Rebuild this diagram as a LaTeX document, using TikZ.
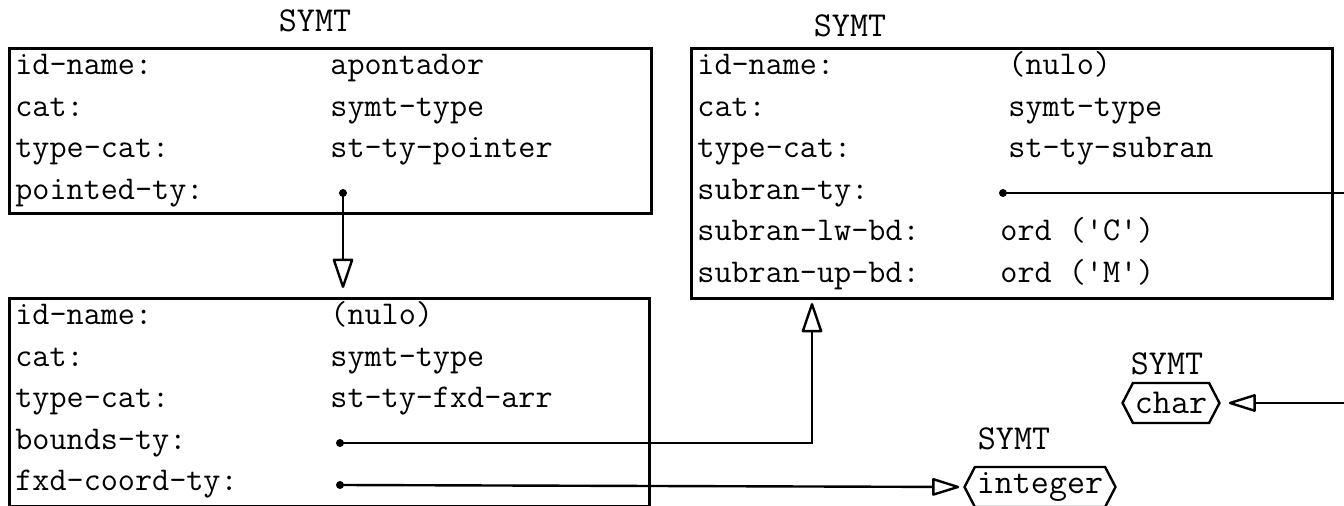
\documentclass[tikz,border=0pt]{standalone}
\usepackage{fontspec}
\usetikzlibrary{arrows.meta,shapes.symbols}
\tikzset{
  box/.style={draw, line width=1.4pt, inner sep=0, anchor=north west},
  fld/.style={anchor=base west, inner sep=0, font=\ttfamily\fontsize{16.6}{19}\selectfont},
  lbl/.style={anchor=base, inner sep=0, font=\ttfamily\fontsize{17.5}{20}\selectfont},
  dotc/.style={circle, fill, inner sep=0, minimum size=4pt},
  conn/.style={line width=1.2pt},
  tri/.style={-{Triangle[open, length=16pt, width=10.5pt, round]}},
  trismall/.style={-{Triangle[open, length=15pt, width=9pt, round]}},
  symtnode/.style={draw, line width=1.2pt, shape=signal, signal to=west and east,
    signal pointer angle=125, inner xsep=1pt, inner ysep=0pt, minimum height=20pt,
    font=\ttfamily\fontsize{17.5}{20}\selectfont}
}
\begin{document}
\begin{tikzpicture}[x=0.5pt,y=-0.5pt]
\clip (0,0) rectangle (1344,506);
% labels
\node[lbl] (l1) at (315,32) {SYMT};
\node[lbl] (l3) at (850,37) {SYMT};
\node[lbl] (l4) at (1167,375) {SYMT};
\node[lbl] (l5) at (1014,450) {SYMT};
% boxes
\node[box, minimum width=321pt, minimum height=82.5pt] (b1) at (8,47) {};
\node[box, minimum width=320pt, minimum height=104pt] (b2) at (8,297) {};
\node[box, minimum width=320.5pt, minimum height=125pt] (b3) at (690,47) {};
% box 1 fields
\node[fld] (a1) at (15,75) {id-name:};
\node[fld] (a2) at (15,116.5) {cat:};
\node[fld] (a3) at (15,158) {type-cat:};
\node[fld] (a4) at (15,199.5) {pointed-ty:};
\node[fld] (av1) at (330,75) {apontador};
\node[fld] (av2) at (330,116.5) {symt-type};
\node[fld] (av3) at (330,158) {st-ty-pointer};
% box 2 fields
\node[fld] (c1) at (15,325) {id-name:};
\node[fld] (c2) at (15,366.5) {cat:};
\node[fld] (c3) at (15,408) {type-cat:};
\node[fld] (c4) at (15,449.5) {bounds-ty:};
\node[fld] (c5) at (15,491) {fxd-coord-ty:};
\node[fld] (cv1) at (330,325) {(nulo)};
\node[fld] (cv2) at (330,366.5) {symt-type};
\node[fld] (cv3) at (330,408) {st-ty-fxd-arr};
% box 3 fields
\node[fld] (e1) at (697,75) {id-name:};
\node[fld] (e2) at (697,116.5) {cat:};
\node[fld] (e3) at (697,158) {type-cat:};
\node[fld] (e4) at (697,199.5) {subran-ty:};
\node[fld] (e5) at (697,241) {subran-lw-bd:};
\node[fld] (e6) at (697,282.5) {subran-up-bd:};
\node[fld] (ev1) at (1008,75) {(nulo)};
\node[fld] (ev2) at (1008,116.5) {symt-type};
\node[fld] (ev3) at (1008,158) {st-ty-subran};
\node[fld] (ev5) at (1000,241) {ord ('C')};
\node[fld] (ev6) at (1000,282.5) {ord ('M')};
% small type nodes
\node[symtnode] (chr) at (1171,403) {char};
\node[symtnode] (int) at (1040,487) {integer};
% dots
\node[dotc] (d1) at (343,193) {};
\node[dotc] (d2) at (340,443) {};
\node[dotc] (d3) at (340,485) {};
\node[dotc] (d4) at (1003,193) {};
\coordinate (t2) at (812,297);
\coordinate (off) at (1360,193);
% connectors
\draw[conn,tri,shorten >=4.5pt] (d1.center) -- (d1 |- b2.north);
\draw[conn,tri,shorten >=3pt] (d2.center) -| (t2);
\draw[conn,trismall,shorten >=2pt] (d3.center) -- (int.west);
\draw[conn,trismall,shorten >=4pt] (d4.center) -- (off) |- (chr.east);
\end{tikzpicture}
\end{document}
